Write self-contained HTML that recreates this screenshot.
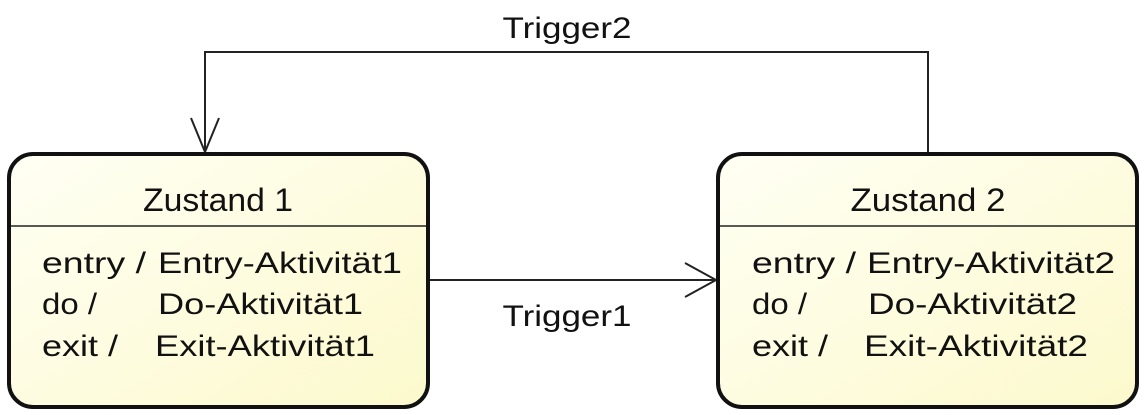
<!DOCTYPE html>
<html><head><meta charset="utf-8"><style>
html,body{margin:0;padding:0;background:#fff;}
svg{display:block;}
text{font-family:"Liberation Sans",Arial,sans-serif;fill:#111;}
</style></head><body>
<svg width="1144" height="415" viewBox="0 0 1144 415" xmlns="http://www.w3.org/2000/svg">
<defs>
<linearGradient id="g" x1="0" y1="0" x2="1" y2="1">
<stop offset="0" stop-color="#fffff4"/><stop offset="1" stop-color="#fcf9cc"/>
</linearGradient>
</defs>
<polyline points="928,152 928,52 205,52 205,152" fill="none" stroke="#222" stroke-width="2"/>
<polyline points="191,118 205,152 219,118" fill="none" stroke="#222" stroke-width="2"/>
<line x1="430" y1="280" x2="716" y2="280" stroke="#222" stroke-width="2"/>
<polyline points="685,263 716,280 685,297" fill="none" stroke="#222" stroke-width="2"/>
<text x="567" y="38" font-size="30" text-anchor="middle" textLength="129" lengthAdjust="spacingAndGlyphs">Trigger2</text>
<text x="567" y="326" font-size="30" text-anchor="middle" textLength="129" lengthAdjust="spacingAndGlyphs">Trigger1</text>
<g>
<rect x="9" y="154" width="419" height="253" rx="24" fill="url(#g)" stroke="#111" stroke-width="4"/>
<line x1="11" y1="226" x2="426" y2="226" stroke="#222" stroke-width="1.5"/>
<text x="218" y="211" font-size="32" text-anchor="middle" textLength="150" lengthAdjust="spacingAndGlyphs">Zustand 1</text>
<text x="42" y="273" font-size="30" textLength="104" lengthAdjust="spacingAndGlyphs">entry /</text>
<text x="158" y="273" font-size="30" textLength="244" lengthAdjust="spacingAndGlyphs">Entry-Aktivität1</text>
<text x="42" y="314" font-size="30" textLength="55" lengthAdjust="spacingAndGlyphs">do /</text>
<text x="158" y="314" font-size="30" textLength="205" lengthAdjust="spacingAndGlyphs">Do-Aktivität1</text>
<text x="42" y="356" font-size="30" textLength="76" lengthAdjust="spacingAndGlyphs">exit /</text>
<text x="155" y="356" font-size="30" textLength="220" lengthAdjust="spacingAndGlyphs">Exit-Aktivität1</text>
</g>
<g transform="translate(709,0)">
<rect x="9" y="154" width="419" height="253" rx="24" fill="url(#g)" stroke="#111" stroke-width="4"/>
<line x1="11" y1="226" x2="426" y2="226" stroke="#222" stroke-width="1.5"/>
<text x="219" y="211" font-size="32" text-anchor="middle" textLength="155" lengthAdjust="spacingAndGlyphs">Zustand 2</text>
<text x="43" y="273" font-size="30" textLength="104" lengthAdjust="spacingAndGlyphs">entry /</text>
<text x="158" y="273" font-size="30" textLength="248" lengthAdjust="spacingAndGlyphs">Entry-Aktivität2</text>
<text x="43" y="314" font-size="30" textLength="55" lengthAdjust="spacingAndGlyphs">do /</text>
<text x="159" y="314" font-size="30" textLength="209" lengthAdjust="spacingAndGlyphs">Do-Aktivität2</text>
<text x="43" y="356" font-size="30" textLength="76" lengthAdjust="spacingAndGlyphs">exit /</text>
<text x="155" y="356" font-size="30" textLength="224" lengthAdjust="spacingAndGlyphs">Exit-Aktivität2</text>
</g>
</svg>
</body></html>
